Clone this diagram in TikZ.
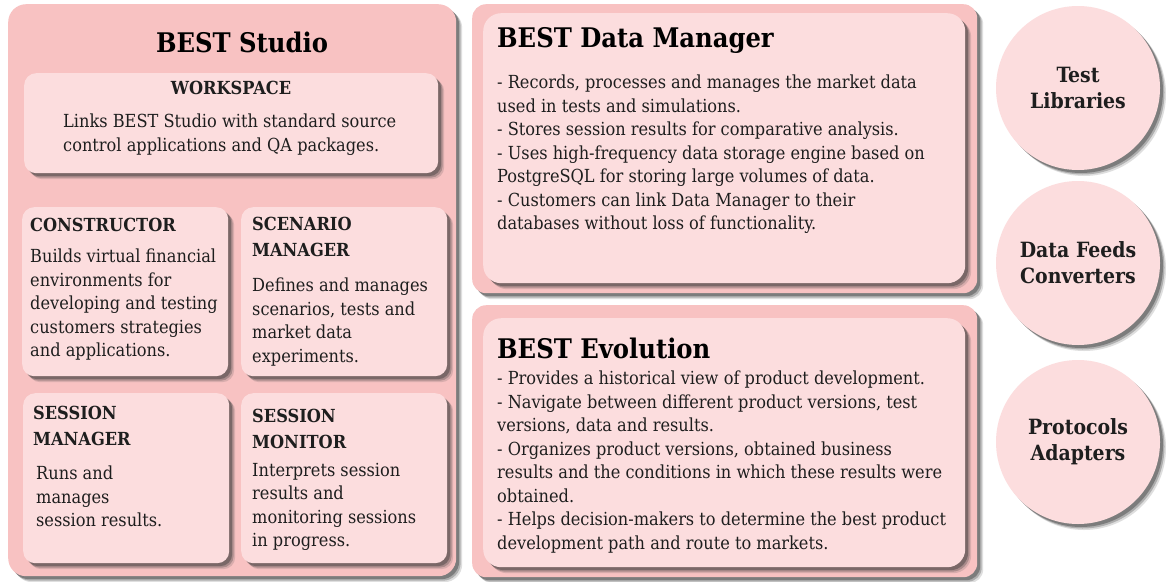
\documentclass[tikz,border=0pt]{standalone}
\usepackage{fontspec}
\setmainfont{DejaVu Serif Condensed}
\usetikzlibrary{shadows}
\definecolor{outerpink}{RGB}{248,194,194}
\definecolor{innerpink}{RGB}{252,221,222}
\definecolor{txt}{RGB}{30,30,30}
\begin{document}
\begin{tikzpicture}[x=1pt,y=-1pt,
  shad/.style={drop shadow={shadow xshift=6pt,shadow yshift=-6pt,fill=black!70,opacity=0.18},
               drop shadow={shadow xshift=4.5pt,shadow yshift=-4.5pt,fill=black!75,opacity=0.3},
               drop shadow={shadow xshift=3pt,shadow yshift=-3pt,fill=black!80,opacity=0.4}},
  outerbox/.style={fill=outerpink,draw=none,rounded corners=18pt,shad,anchor=north west,inner sep=0},
  innerbox/.style={fill=innerpink,draw=none,rounded corners=12pt,shad,anchor=north west,inner sep=0},
  body/.style={anchor=north west,inner sep=0,align=left,font=\fontsize{18}{23.5}\selectfont,text=txt},
  head/.style={anchor=north west,inner sep=0,align=left,font=\fontsize{18}{26}\selectfont\bfseries,text=txt},
  title/.style={anchor=north west,inner sep=0,font=\fontsize{27}{32}\selectfont\bfseries},
  circ/.style={circle,fill=innerpink,minimum size=164pt,inner sep=0,shad,align=center,font=\fontsize{21}{26}\selectfont\bfseries,text=txt}]
\useasboundingbox (0,0) rectangle (1166,581);
\fill[white] (0,0) rectangle (1166,581);
% BEST Studio
\node[outerbox,minimum width=448pt,minimum height=572pt] (studio) at (8,4) {};
\node[title,anchor=north] (studiot) at (242,32) {BEST Studio};
\node[innerbox,minimum width=414pt,minimum height=100pt] (ws) at (24,73) {};
\node[head,anchor=north] (wsh) at (231,81) {WORKSPACE};
\node[body] (wsb) at (63,114) {Links BEST Studio with standard source\\control applications and QA packages.};
\node[innerbox,minimum width=206pt,minimum height=169pt] (con) at (22,207) {};
\node[head] (conh) at (30,218) {CONSTRUCTOR};
\node[body] (conb) at (30,249) {Builds virtual financial\\environments for\\developing and testing\\customers strategies\\and applications.};
\node[innerbox,minimum width=206pt,minimum height=169pt] (scn) at (241,207) {};
\node[head] (scnh) at (252,217) {SCENARIO\\MANAGER};
\node[body] (scnb) at (252,278) {Defines and manages\\scenarios, tests and\\market data\\experiments.};
\node[innerbox,minimum width=206pt,minimum height=170pt] (smg) at (23,393) {};
\node[head] (smgh) at (33,406) {SESSION\\MANAGER};
\node[body] (smgb) at (36,466) {Runs and\\manages\\session results.};
\node[innerbox,minimum width=206pt,minimum height=170pt] (smo) at (241,393) {};
\node[head] (smoh) at (252,409) {SESSION\\MONITOR};
\node[body] (smob) at (252,463) {Interprets session\\results and\\monitoring sessions\\in progress.};
% Data Manager
\node[outerbox,rounded corners=14pt,minimum width=505pt,minimum height=289pt] (dm) at (472,4) {};
\node[innerbox,rounded corners=18pt,minimum width=482pt,minimum height=270pt] (dmin) at (483,13) {};
\node[title] (dmt) at (497,27) {BEST Data Manager};
\node[body] (dmb) at (497,75) {- Records, processes and manages the market data\\used in tests and simulations.\\- Stores session results for comparative analysis.\\- Uses high-frequency data storage engine based on\\PostgreSQL for storing large volumes of data.\\- Customers can link Data Manager to their\\databases without loss of functionality.};
% Evolution
\node[outerbox,rounded corners=14pt,minimum width=505pt,minimum height=272pt] (ev) at (472,305) {};
\node[innerbox,rounded corners=18pt,minimum width=482pt,minimum height=249pt] (evin) at (483,318) {};
\node[title] (evt) at (497,338) {BEST Evolution};
\node[body] (evb) at (497,371) {- Provides a historical view of product development.\\- Navigate between different product versions, test\\versions, data and results.\\- Organizes product versions, obtained business\\results and the conditions in which these results were\\obtained.\\- Helps decision-makers to determine the best product\\development path and route to markets.};
% circles
\node[circ] (tl) at (1078,88) {Test\\Libraries};
\node[circ] (dfc) at (1078,263) {Data Feeds\\Converters};
\node[circ] (pa) at (1078,442) {Protocols\\Adapters};
\end{tikzpicture}
\end{document}
